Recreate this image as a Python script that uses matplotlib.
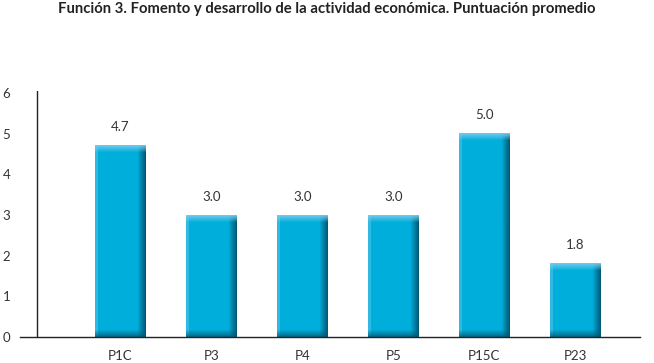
import matplotlib
matplotlib.use("Agg")
import matplotlib.pyplot as plt
import numpy as np

# Datos del gráfico
categorias = ["P1C", "P3", "P4", "P5", "P15C", "P23"]
puntuaciones = [4.7, 3.0, 3.0, 3.0, 5.0, 1.8]
etiquetas = ["4.7", "3.0", "3.0", "3.0", "5.0", "1.8"]
titulo = "Función 3. Fomento y desarrollo de la actividad económica. Puntuación promedio"

plt.rcParams["font.family"] = ["Lato", "DejaVu Sans"]

fig = plt.figure(figsize=(6.54, 3.63), dpi=100)
ax = fig.add_axes([20 / 654, 1 - 337 / 363, 620 / 654, (337 - 91) / 363])

x = np.arange(len(categorias))
barras = ax.bar(x, puntuaciones, width=0.55, color="none", edgecolor="none")

# Relleno con degradado (efecto biselado)
px_y = (337 - 91) / 6.0  # pixeles por unidad
base = np.array([0, 174, 219]) / 255
claro = np.array([120, 205, 238]) / 255
oscuro = np.array([0, 90, 118]) / 255

for b in barras:
    bx, bw, bh = b.get_x(), b.get_width(), b.get_height()
    ncol = 50
    nfil = max(int(bh * px_y), 12)
    img = np.tile(base, (nfil, ncol, 1))
    # sombra lateral derecha
    for j in range(ncol - 8, ncol):
        t = (j - (ncol - 8) + 1) / 8
        img[:, j] = base * (1 - t) + oscuro * t
    # brillo lateral izquierdo
    img[:, 0:3] = base * 0.6 + claro * 0.4
    # banda superior clara
    for i in range(7):
        t = 1 - i / 7
        img[i] = img[i] * (1 - 0.9 * t) + claro * 0.9 * t
    # banda inferior oscura
    for i in range(7):
        t = (i + 1) / 7
        img[nfil - 7 + i] = img[nfil - 7 + i] * (1 - 0.8 * t) + oscuro * 0.8 * t
    ax.imshow(img, extent=[bx, bx + bw, 0, bh], aspect="auto", zorder=2,
              interpolation="bilinear")

for xi, v, et in zip(x, puntuaciones, etiquetas):
    ax.annotate(et, (xi, v), xytext=(0, 9), textcoords="offset points",
                ha="center", va="bottom", fontsize=9.5, color="#333333")

ax.set_xlim(-1.099, 5.71)
ax.set_ylim(0, 6.05)
ax.set_xticks(x)
ax.set_xticklabels(categorias, fontsize=9.5, color="#333333")
ax.set_yticks(range(7))
ax.set_yticklabels([str(i) for i in range(7)], fontsize=9.5, color="#333333")
ax.tick_params(axis="both", length=0)
ax.tick_params(axis="x", pad=9)
ax.tick_params(axis="y", pad=7)

for s in ["top", "right", "left"]:
    ax.spines[s].set_visible(False)
ax.spines["bottom"].set_color("#222222")
ax.spines["bottom"].set_linewidth(1.0)
ax.axvline(-0.912, ymin=0, ymax=1, color="#222222", linewidth=1.0)

fig.text(0.5, 1 - 9 / 363, titulo, ha="center", va="center",
         fontsize=10.7, fontweight="bold", color="#222222")

fig.savefig("out.png", dpi=100)
